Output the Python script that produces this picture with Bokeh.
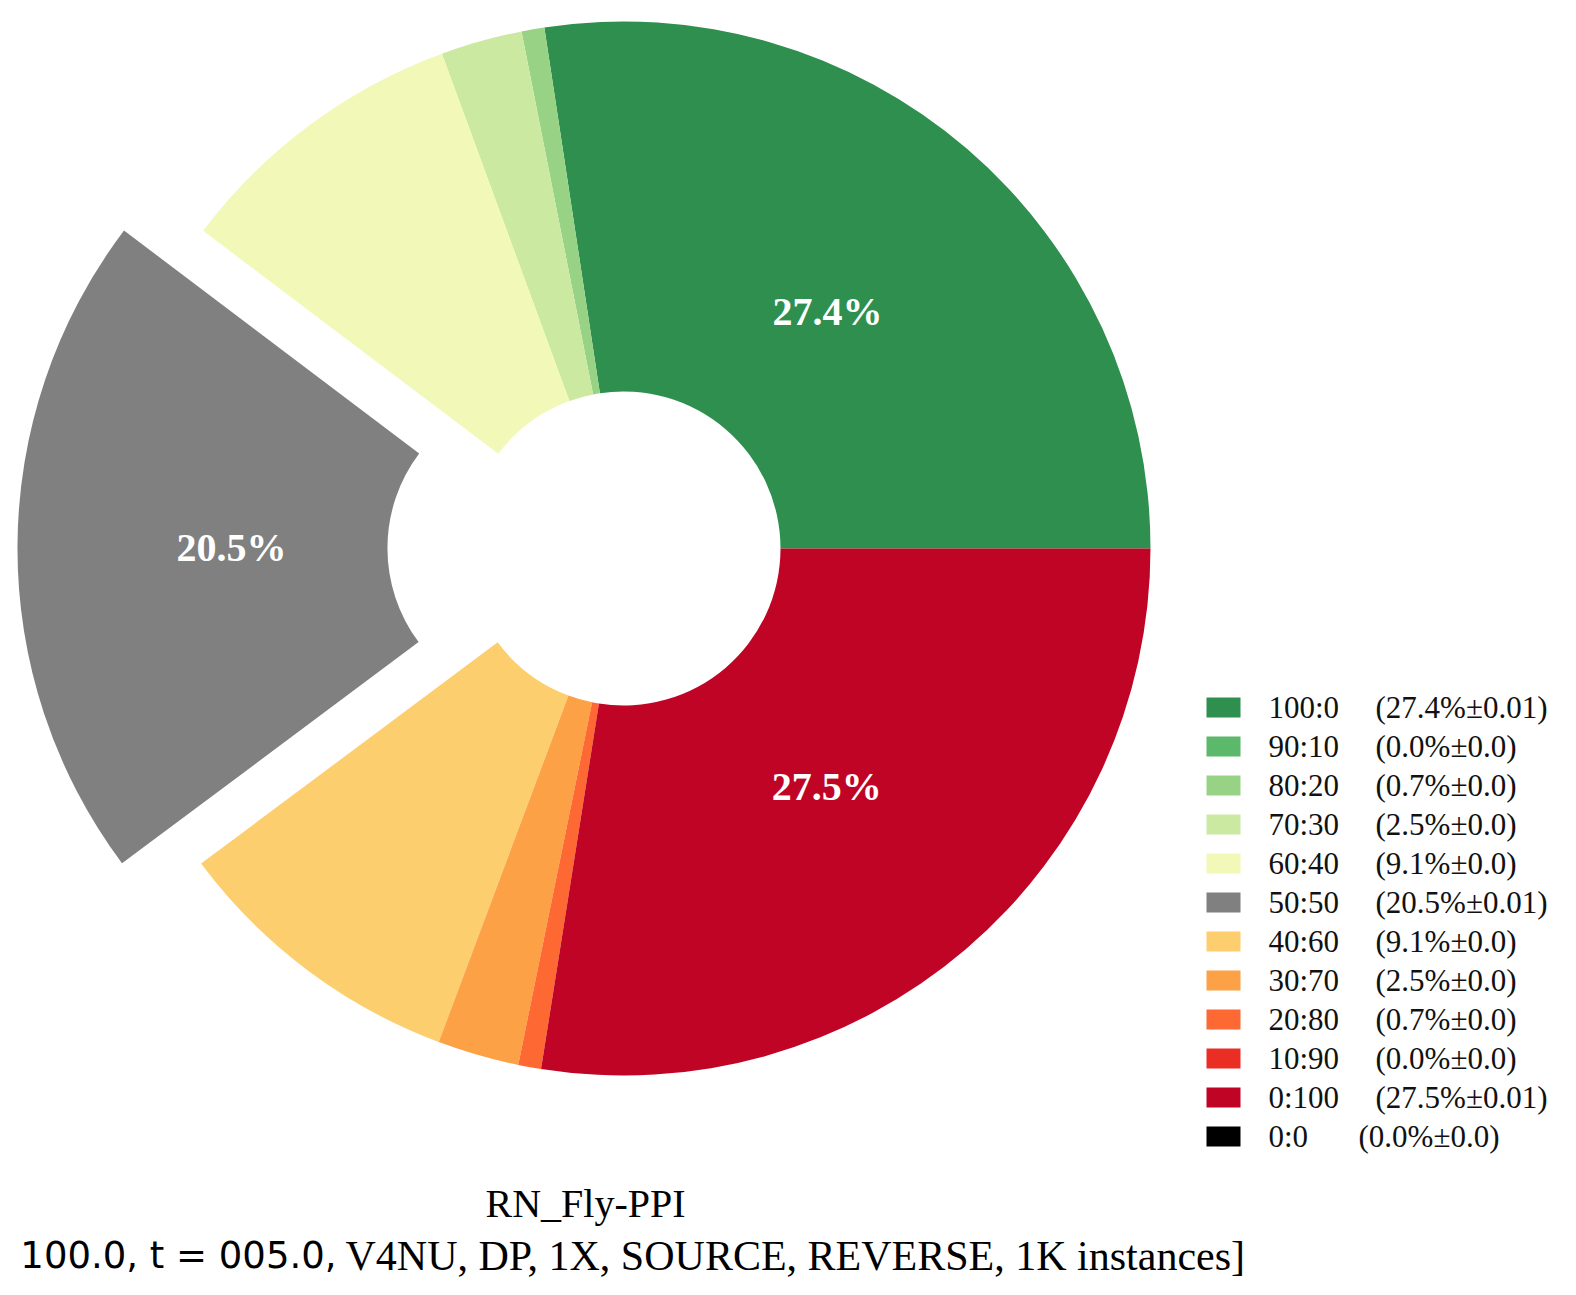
import math
from bokeh.plotting import figure
from bokeh.models import ColumnDataSource
from bokeh.core.properties import value
from bokeh.embed import file_html
from bokeh.resources import INLINE

W, H = 1560, 1279

categories = ["100:0", "90:10", "80:20", "70:30", "60:40", "50:50",
              "40:60", "30:70", "20:80", "10:90", "0:100", "0:0"]
shares = [27.4, 0.0, 0.7, 2.5, 9.1, 20.5, 9.1, 2.5, 0.7, 0.0, 27.5, 0.0]
errors = ["0.01", "0.0", "0.0", "0.0", "0.0", "0.01", "0.0", "0.0", "0.0", "0.0", "0.01", "0.0"]
colors = ["#2e8f4e", "#5cb86b", "#98d385", "#cbe9a0", "#f2f9b8", "#808080",
          "#fdce6e", "#fca145", "#fd6833", "#ea2e24", "#c00426", "#000000"]
explode = [0, 0, 0, 0, 0, 0.15, 0, 0, 0, 0, 0, 0]

cx, cy = 623, H - 548
r_out, r_in = 527, 157

p = figure(width=W, height=H, x_range=(0, W), y_range=(0, H),
           output_backend="svg", toolbar_location=None, min_border=0)
p.axis.visible = False
p.grid.visible = False
p.outline_line_color = None

total = sum(shares)
starts, ends, xs, ys, cols = [], [], [], [], []
all_starts, all_ends, all_x, all_y = [], [], [], []
acc = 0.0
for s, e, c in zip(shares, explode, colors):
    a0 = acc / total * 2 * math.pi
    acc += s
    a1 = acc / total * 2 * math.pi
    mid = (a0 + a1) / 2
    x = cx + e * r_out * math.cos(mid)
    y = cy + e * r_out * math.sin(mid)
    all_starts.append(a0); all_ends.append(a1); all_x.append(x); all_y.append(y)
    if s > 0:
        starts.append(a0); ends.append(a1); xs.append(x); ys.append(y); cols.append(c)

src = ColumnDataSource(dict(x=xs, y=ys, start=starts, end=ends, color=cols))
p.annular_wedge(x="x", y="y", inner_radius=r_in, outer_radius=r_out,
                start_angle="start", end_angle="end", fill_color="color",
                line_color=None, source=src)

# percentage labels for big slices
lx, ly, lt = [], [], []
for i, s in enumerate(shares):
    if s >= 15:
        mid = (all_starts[i] + all_ends[i]) / 2
        lx.append(all_x[i] + 313 * math.cos(mid))
        ly.append(all_y[i] + 313 * math.sin(mid))
        lt.append(f"{s}%")
p.text(lx, ly, text=lt, text_color="white", text_font=value("Liberation Serif"),
       text_font_style="bold", text_font_size="40px",
       text_align="center", text_baseline="middle")

# legend
ly0 = H - 707
step = 39
leg_y = [ly0 - i * step for i in range(len(categories))]
p.rect([1223] * len(categories), leg_y, width=34, height=20,
       fill_color=colors, line_color=None)
p.text([1268] * len(categories), leg_y, text=categories,
       text_font=value("Liberation Serif"), text_font_size="31px",
       text_baseline="middle", text_color="#111111")
par = [f"({s}%±{e})" for s, e in zip(shares, errors)]
par_x = [1375] * (len(categories) - 1) + [1358]
p.text(par_x, leg_y, text=par,
       text_font=value("Liberation Serif"), text_font_size="31px",
       text_baseline="middle", text_color="#111111")

# bottom title
p.text([585], [H - 1203], text=["RN_Fly-PPI"], text_font=value("Liberation Serif"),
       text_font_size="40px", text_align="center", text_baseline="middle")
p.text([336], [H - 1255], text=["100.0, t = 005.0,"], text_font=value("DejaVu Sans"),
       text_font_size="37px", text_align="right", text_baseline="middle")
p.text([345], [H - 1255], text=["V4NU, DP, 1X, SOURCE, REVERSE, 1K instances]"],
       text_font=value("Liberation Serif"),
       text_font_size="42px", text_align="left", text_baseline="middle")

open("out.html", "w").write(file_html(p, INLINE))
